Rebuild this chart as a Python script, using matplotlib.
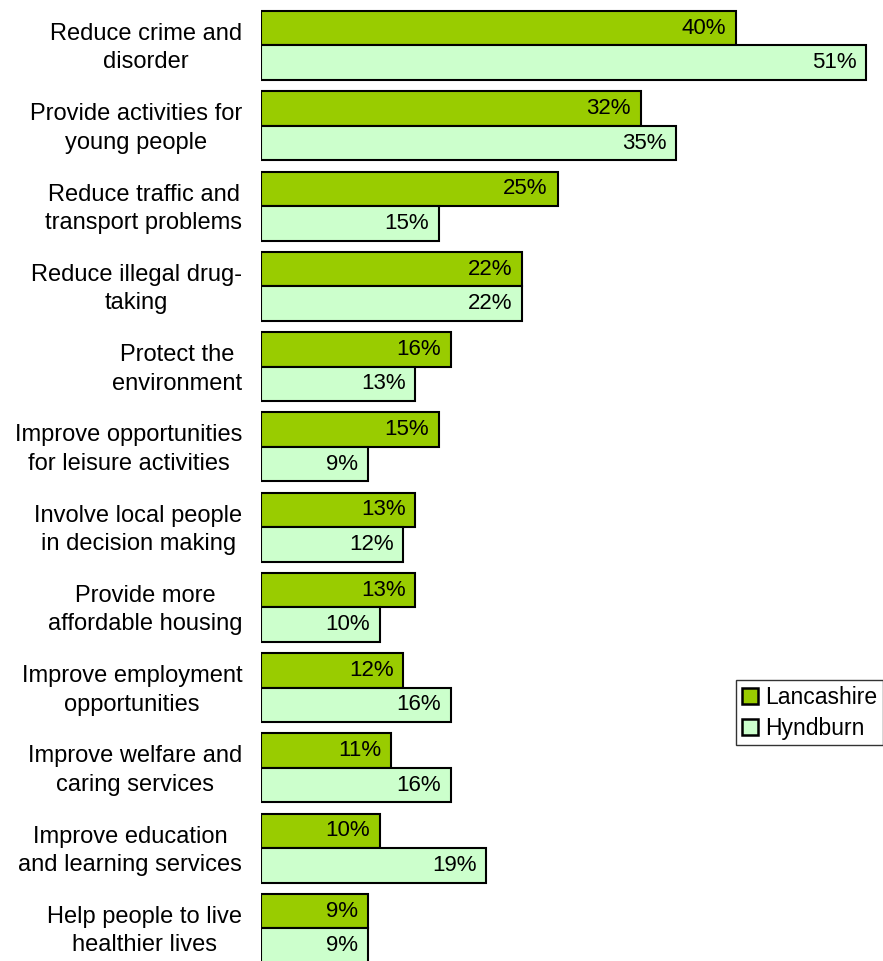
import matplotlib
matplotlib.use("Agg")
import matplotlib.pyplot as plt
import numpy as np
from matplotlib.patches import Patch
from matplotlib.transforms import ScaledTranslation

categories = [
    "Reduce crime and\ndisorder",
    "Provide activities for\nyoung people",
    "Reduce traffic and\ntransport problems",
    "Reduce illegal drug-\ntaking",
    "Protect the\nenvironment",
    "Improve opportunities\nfor leisure activities",
    "Involve local people\nin decision making",
    "Provide more\naffordable housing",
    "Improve employment\nopportunities",
    "Improve welfare and\ncaring services",
    "Improve education\nand learning services",
    "Help people to live\nhealthier lives",
]
lancashire = [40, 32, 25, 22, 16, 15, 13, 13, 12, 11, 10, 9]
hyndburn = [51, 35, 15, 22, 13, 9, 12, 10, 16, 16, 19, 9]
series_names = ["Lancashire", "Hyndburn"]
colors = ["#99CC00", "#CCFFCC"]

plt.rcParams['font.family'] = ['Liberation Sans', 'DejaVu Sans']

W, H = 883, 961
fig = plt.figure(figsize=(W / 100, H / 100), dpi=100)
left_px = 261
ax = fig.add_axes([left_px / W, 0, 1 - left_px / W, 1])

px_per_group = 80.27
center0 = 45.5
ax.set_ylim((H - center0) / px_per_group, -center0 / px_per_group)
px_per_unit = (866 - 261) / 51
ax.set_xlim(0, (W - left_px) / px_per_unit)

y = np.arange(len(categories))
bh = 34.5 / px_per_group
b1 = ax.barh(y - bh / 2, lancashire, height=bh, color=colors[0], edgecolor="black", linewidth=1.5)
b2 = ax.barh(y + bh / 2, hyndburn, height=bh, color=colors[1], edgecolor="black", linewidth=1.5)

for bars, vals in ((b1, lancashire), (b2, hyndburn)):
    ax.bar_label(bars, labels=[f"{v}%" for v in vals], padding=-7, fontsize=16)
    for t in ax.texts[-len(vals):]:
        t.set_ha("right")

ax.set_yticks(y)
ax.set_yticklabels(categories, fontsize=17, linespacing=1.38, ha="right",
                   multialignment="center")
ax.tick_params(axis="y", length=0, pad=13.5)
shift = ScaledTranslation(0, 3 / 100, fig.dpi_scale_trans)
for lab in ax.get_yticklabels():
    lab.set_transform(lab.get_transform() + shift)
ax.set_xticks([])
for s in ["top", "right", "bottom", "left"]:
    ax.spines[s].set_visible(False)

handles = [Patch(facecolor=colors[0], edgecolor="black", linewidth=1.8),
           Patch(facecolor=colors[1], edgecolor="black", linewidth=1.8)]
leg = fig.legend(handles, series_names, loc="upper left",
                 bbox_to_anchor=(736 / W, 1 - 680 / H), fontsize=16.5,
                 frameon=True, fancybox=False, edgecolor="black",
                 handlelength=0.7, handleheight=0.7, handletextpad=0.3,
                 borderpad=0.25, labelspacing=0.35, borderaxespad=0)
leg.get_frame().set_linewidth(1.0)

fig.savefig("out.png", dpi=100)
